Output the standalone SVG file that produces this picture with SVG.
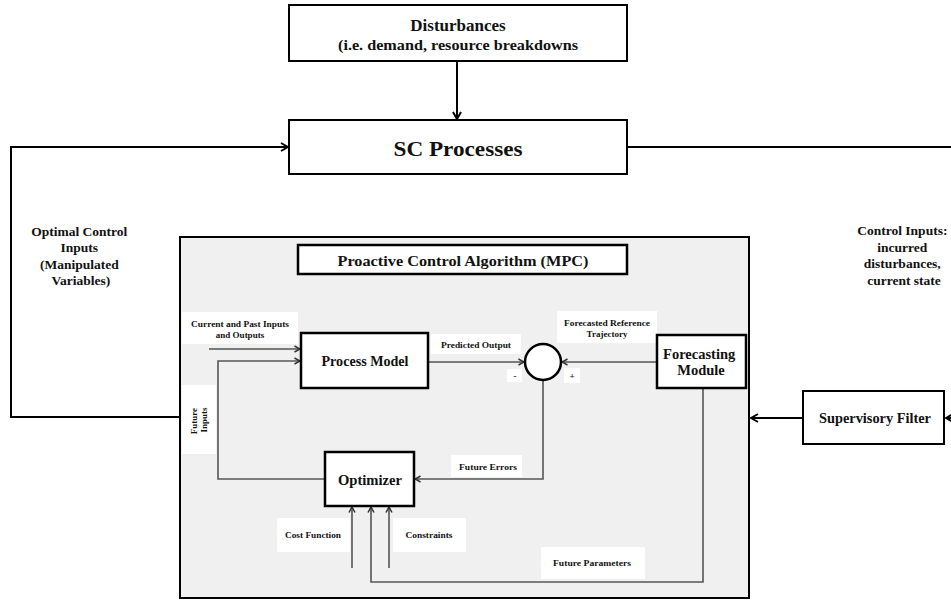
<svg xmlns="http://www.w3.org/2000/svg" width="951" height="601" viewBox="0 0 951 601">
  <style>
    text { font-family: "Liberation Serif", "Times New Roman", serif; font-weight: bold; fill: #111; }
    .box { fill: #fff; stroke: #000; stroke-width: 2; }
    .ibox { fill: #fff; stroke: #000; stroke-width: 2.5; }
    .panel { fill: #f0f0f0; stroke: #000; stroke-width: 2; }
    .lbl { fill: #fff; stroke: none; }
    .wire { fill: none; stroke: #000; stroke-width: 2; }
    .iwire { fill: none; stroke: #555; stroke-width: 1.6; }
    .t-big { font-size: 21px; }
    .t-mid { font-size: 17px; }
    .t-node { font-size: 14.5px; }
    .t-side { font-size: 13.5px; }
    .t-small { font-size: 9px; }
  </style>
  <defs>
    <marker id="arrow" viewBox="0 0 10 10" refX="9" refY="5" markerWidth="10" markerHeight="10" markerUnits="userSpaceOnUse" orient="auto">
      <path d="M2,1 L9,5 L2,9" fill="none" stroke="#000" stroke-width="2"/>
    </marker>
    <marker id="arrow-s" viewBox="0 0 8 8" refX="7.5" refY="4" markerWidth="8" markerHeight="8" markerUnits="userSpaceOnUse" orient="auto">
      <path d="M2,1 L7.5,4 L2,7" fill="none" stroke="#333" stroke-width="1.5"/>
    </marker>
  </defs>

  <rect width="951" height="601" fill="#fff"/>

  <!-- MPC panel background -->
  <g id="mpc-panel">
    <rect class="panel" x="180" y="237" width="569" height="361"/>
  </g>

  <!-- label backgrounds inside the panel -->
  <g id="label-backgrounds">
    <rect class="lbl" x="182" y="312" width="116" height="32"/>
    <rect class="lbl" x="431" y="334" width="90" height="20"/>
    <rect class="lbl" x="557" y="311" width="100" height="32"/>
    <rect class="lbl" x="507" y="369" width="15" height="13"/>
    <rect class="lbl" x="564" y="368" width="16" height="15"/>
    <rect class="lbl" x="182" y="385" width="34" height="69"/>
    <rect class="lbl" x="451" y="455" width="71" height="22"/>
    <rect class="lbl" x="277" y="518" width="73" height="34"/>
    <rect class="lbl" x="393" y="518" width="73" height="34"/>
    <rect class="lbl" x="541" y="547" width="104" height="32"/>
  </g>

  <!-- connectors -->
  <g id="connectors">
    <!-- outer loop -->
    <line class="wire" x1="457" y1="61" x2="457" y2="119" marker-end="url(#arrow)"/>
    <path class="wire" d="M180,417 H11 V147 H288" marker-end="url(#arrow)"/>
    <line class="wire" x1="627" y1="147" x2="955" y2="147"/>
    <line class="wire" x1="803" y1="418" x2="751" y2="418" marker-end="url(#arrow)"/>
    <line class="wire" x1="960" y1="418" x2="946" y2="418" marker-end="url(#arrow)"/>
    <!-- inner MPC flows -->
    <line class="iwire" x1="209" y1="349" x2="300" y2="349" marker-end="url(#arrow-s)"/>
    <path class="iwire" d="M325,479 H218 V361 H300" marker-end="url(#arrow-s)"/>
    <line class="iwire" x1="428" y1="362" x2="524" y2="362" marker-end="url(#arrow-s)"/>
    <line class="iwire" x1="657" y1="362" x2="562" y2="362" marker-end="url(#arrow-s)"/>
    <path class="iwire" d="M543,380 V479 H415" marker-end="url(#arrow-s)"/>
    <line class="iwire" x1="352" y1="568" x2="352" y2="507" marker-end="url(#arrow-s)"/>
    <line class="iwire" x1="389" y1="568" x2="389" y2="507" marker-end="url(#arrow-s)"/>
    <path class="iwire" d="M703,388 V582 H371 V507" marker-end="url(#arrow-s)"/>
  </g>

  <g id="disturbances">
    <rect class="box" x="289" y="5" width="338" height="56"/>
    <text class="t-mid" x="458" y="31" text-anchor="middle">Disturbances</text>
    <text x="458" y="50" text-anchor="middle" font-size="14" textLength="240" lengthAdjust="spacingAndGlyphs">(i.e. demand, resource breakdowns</text>
  </g>

  <g id="sc-processes">
    <rect class="box" x="289" y="120" width="338" height="54"/>
    <text class="t-big" x="458" y="156" text-anchor="middle" textLength="129" lengthAdjust="spacingAndGlyphs">SC Processes</text>
  </g>

  <g id="optimal-control-label">
    <text class="t-side" text-anchor="middle">
      <tspan x="81" y="236">Optimal Control</tspan>
      <tspan x="81" y="252">Inputs</tspan>
      <tspan x="81" y="269">(Manipulated</tspan>
      <tspan x="81" y="285">Variables)</tspan>
    </text>
  </g>

  <g id="control-inputs-label">
    <text class="t-side" text-anchor="middle">
      <tspan x="904" y="235">Control Inputs:</tspan>
      <tspan x="904" y="252">incurred</tspan>
      <tspan x="904" y="268">disturbances,</tspan>
      <tspan x="904" y="285">current state</tspan>
    </text>
  </g>

  <g id="mpc-title">
    <rect class="ibox" x="298" y="245" width="329" height="29"/>
    <text x="463" y="266" text-anchor="middle" font-size="15" textLength="251" lengthAdjust="spacingAndGlyphs">Proactive Control Algorithm (MPC)</text>
  </g>

  <g id="process-model">
    <rect class="ibox" x="301" y="333" width="127" height="55"/>
    <text class="t-node" x="365" y="366" text-anchor="middle" textLength="87" lengthAdjust="spacingAndGlyphs">Process Model</text>
  </g>

  <g id="comparator">
    <circle cx="543" cy="362" r="18" fill="#fff" stroke="#000" stroke-width="2.5"/>
  </g>

  <g id="forecasting-module">
    <rect class="ibox" x="657" y="335" width="89" height="53"/>
    <text class="t-node" text-anchor="middle">
      <tspan x="701" y="359">Forecasting</tspan>
      <tspan x="701" y="375">Module</tspan>
    </text>
  </g>

  <g id="optimizer">
    <rect class="ibox" x="325" y="452" width="89" height="54"/>
    <text class="t-node" x="370" y="485" text-anchor="middle" textLength="64" lengthAdjust="spacingAndGlyphs">Optimizer</text>
  </g>

  <g id="supervisory-filter">
    <rect class="box" x="803" y="391" width="141" height="53"/>
    <text class="t-node" x="875" y="423" text-anchor="middle" textLength="112" lengthAdjust="spacingAndGlyphs">Supervisory Filter</text>
  </g>

  <!-- small flow labels -->
  <g id="flow-labels">
    <text class="t-small" x="240" y="327" text-anchor="middle" textLength="98" lengthAdjust="spacingAndGlyphs">Current and Past Inputs</text>
    <text class="t-small" x="240" y="338" text-anchor="middle">and Outputs</text>
    <text class="t-small" x="476" y="348" text-anchor="middle" textLength="70" lengthAdjust="spacingAndGlyphs">Predicted Output</text>
    <text class="t-small" x="607" y="326" text-anchor="middle" textLength="86" lengthAdjust="spacingAndGlyphs">Forecasted Reference</text>
    <text class="t-small" x="607" y="337" text-anchor="middle">Trajectory</text>
    <text class="t-small" x="515" y="379" text-anchor="middle">-</text>
    <text class="t-small" x="572" y="379" text-anchor="middle">+</text>
    <text class="t-small" transform="translate(199,420) rotate(-90)" text-anchor="middle">
      <tspan x="0" y="-2">Future</tspan>
      <tspan x="0" y="8">Inputs</tspan>
    </text>
    <text class="t-small" x="488" y="470" text-anchor="middle" textLength="58" lengthAdjust="spacingAndGlyphs">Future Errors</text>
    <text class="t-small" x="313" y="538" text-anchor="middle" textLength="56" lengthAdjust="spacingAndGlyphs">Cost Function</text>
    <text class="t-small" x="429" y="538" text-anchor="middle" textLength="47" lengthAdjust="spacingAndGlyphs">Constraints</text>
    <text class="t-small" x="592" y="566" text-anchor="middle" textLength="78" lengthAdjust="spacingAndGlyphs">Future Parameters</text>
  </g>
</svg>
